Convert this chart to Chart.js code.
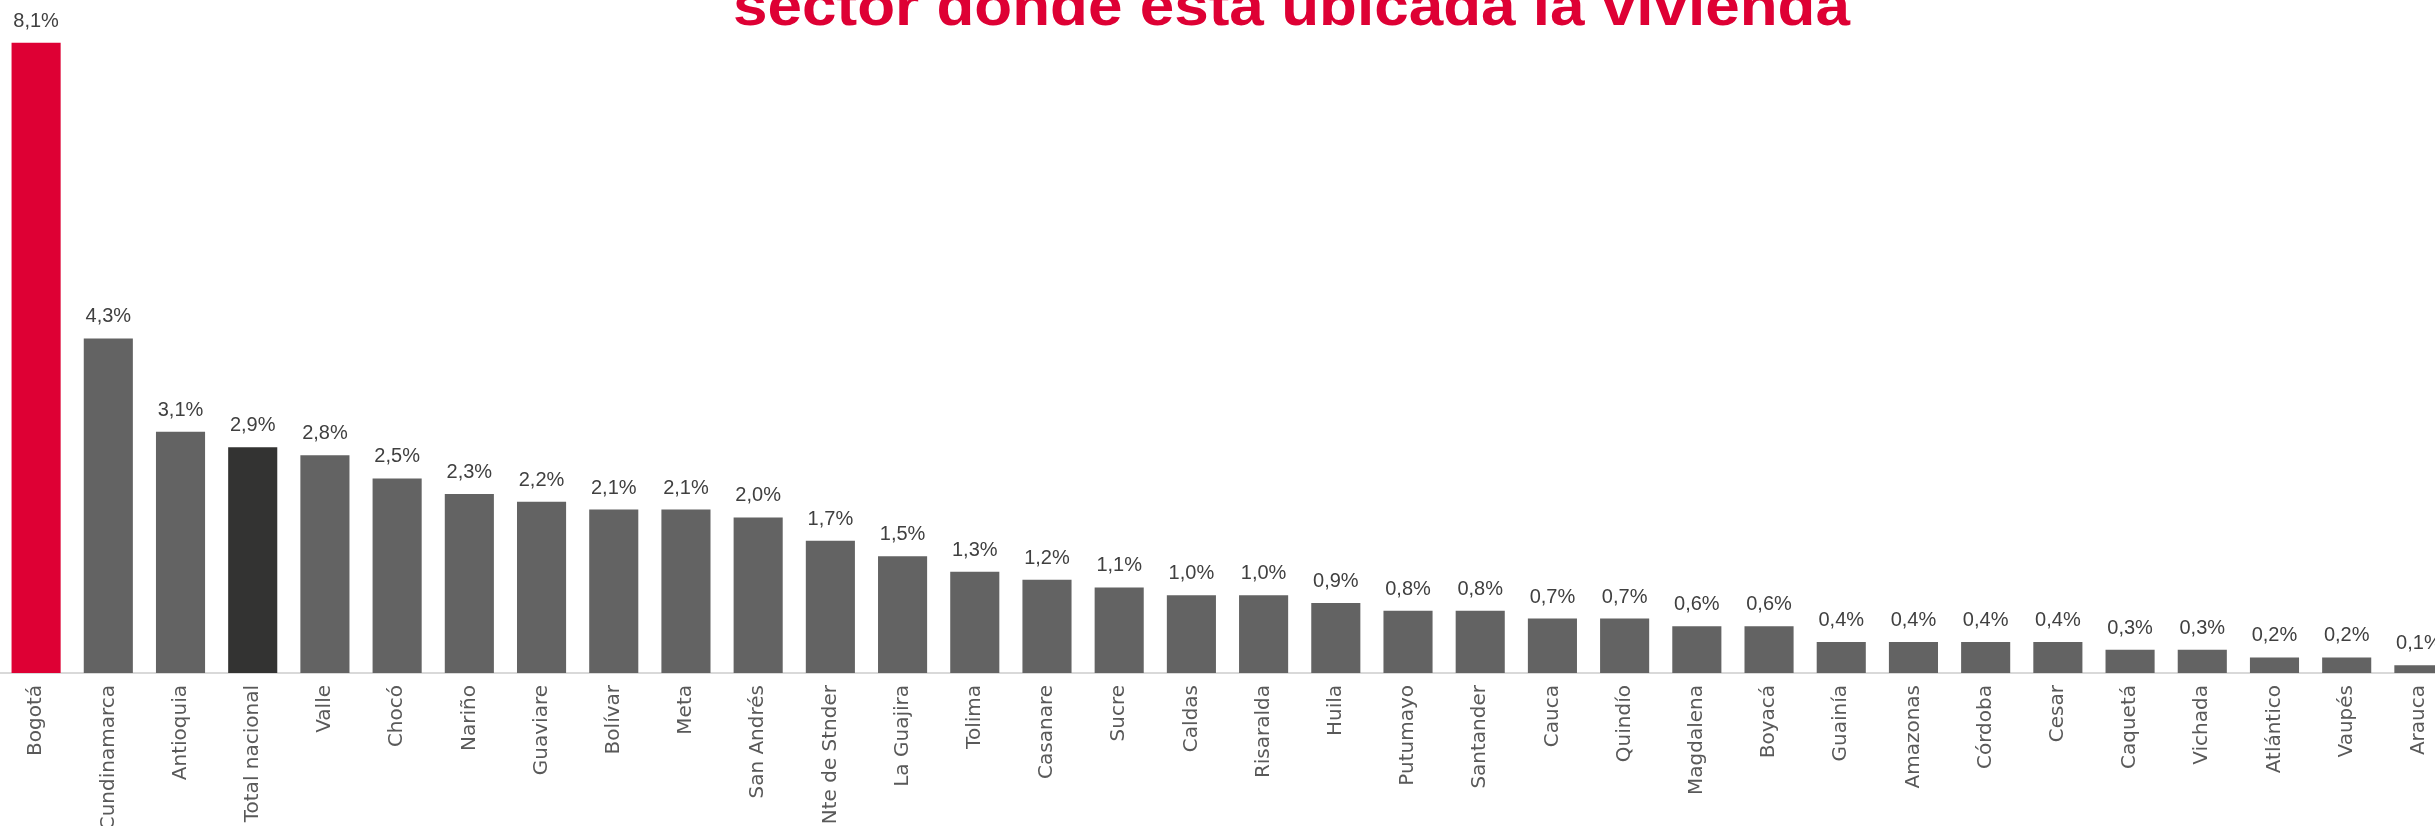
<!DOCTYPE html>
<html>
<head>
<meta charset="utf-8">
<script src="https://cdn.jsdelivr.net/npm/chart.js@4.4.1/dist/chart.umd.min.js"></script>
<style>
  html, body { margin: 0; padding: 0; background: #fff; overflow: hidden; width: 2435px; height: 826px; }
  #wrap { position: absolute; left: 0; top: 0; width: 2455px; height: 900px; }
</style>
</head>
<body>
<div id="wrap"><canvas id="grafico" width="2455" height="900"></canvas></div>
<script>
// departamentos (orden del gráfico)
const departamentos = ['Bogotá', 'Cundinamarca', 'Antioquia', 'Total nacional', 'Valle', 'Chocó', 'Nariño',
  'Guaviare', 'Bolívar', 'Meta', 'San Andrés', 'Nte de Stnder', 'La Guajira', 'Tolima', 'Casanare', 'Sucre',
  'Caldas', 'Risaralda', 'Huila', 'Putumayo', 'Santander', 'Cauca', 'Quindío', 'Magdalena', 'Boyacá',
  'Guainía', 'Amazonas', 'Córdoba', 'Cesar', 'Caquetá', 'Vichada', 'Atlántico', 'Vaupés', 'Arauca'];
// porcentaje de hogares
const porcentajes = [8.1, 4.3, 3.1, 2.9, 2.8, 2.5, 2.3, 2.2, 2.1, 2.1, 2.0, 1.7, 1.5, 1.3, 1.2, 1.1,
  1.0, 1.0, 0.9, 0.8, 0.8, 0.7, 0.7, 0.6, 0.6, 0.4, 0.4, 0.4, 0.4, 0.3, 0.3, 0.2, 0.2, 0.1];
const titulo = 'sector donde está ubicada la vivienda';

const rojo = '#DE0034', grisOscuro = '#333332', gris = '#636363';
const colores = departamentos.map(d => d === 'Bogotá' ? rojo : (d === 'Total nacional' ? grisOscuro : gris));

// etiquetas de valor encima de cada barra, con coma decimal
const etiquetas = {
  id: 'etiquetas',
  afterDatasetsDraw(chart) {
    const ctx = chart.ctx;
    const meta = chart.getDatasetMeta(0);
    ctx.save();
    ctx.font = '20px "Liberation Sans", Arial, sans-serif';
    ctx.fillStyle = '#404040';
    ctx.textAlign = 'center';
    ctx.textBaseline = 'alphabetic';
    meta.data.forEach((barra, i) => {
      const txt = porcentajes[i].toFixed(1).replace('.', ',') + '%';
      ctx.fillText(txt, barra.x, barra.y - 16);
    });
    ctx.restore();
  }
};

// titulo (recortado arriba en el original)
const tituloPlugin = {
  id: 'tituloPlugin',
  afterDraw(chart) {
    const ctx = chart.ctx;
    ctx.save();
    ctx.font = 'bold 58px "Liberation Sans", Arial, sans-serif';
    ctx.fillStyle = rojo;
    ctx.textBaseline = 'alphabetic';
    const w = ctx.measureText(titulo).width;
    const x0 = 733, ancho = 1117;
    ctx.translate(x0, 25);
    ctx.scale(ancho / w, 1);
    ctx.fillText(titulo, 0, 0);
    ctx.restore();
  }
};

new Chart(document.getElementById('grafico'), {
  type: 'bar',
  data: {
    labels: departamentos,
    datasets: [{
      data: porcentajes,
      backgroundColor: colores,
      borderWidth: 0,
      barPercentage: 0.68,
      categoryPercentage: 1
    }]
  },
  options: {
    responsive: false,
    animation: false,
    devicePixelRatio: 1,
    layout: { padding: 0 },
    plugins: { legend: { display: false }, tooltip: { enabled: false } },
    scales: {
      x: {
        grid: { display: false, drawTicks: false },
        border: { display: true, color: '#D9D9D9', width: 2 },
        ticks: {
          autoSkip: false,
          minRotation: 90,
          maxRotation: 90,
          padding: 12,
          color: '#595959',
          font: { family: '"DejaVu Sans", sans-serif', size: 20 }
        },
        afterFit(scale) { scale.height = 900 - 673; }
      },
      y: {
        display: false,
        min: 0,
        max: 8.65
      }
    }
  },
  plugins: [etiquetas, tituloPlugin]
});
</script>
</body>
</html>
